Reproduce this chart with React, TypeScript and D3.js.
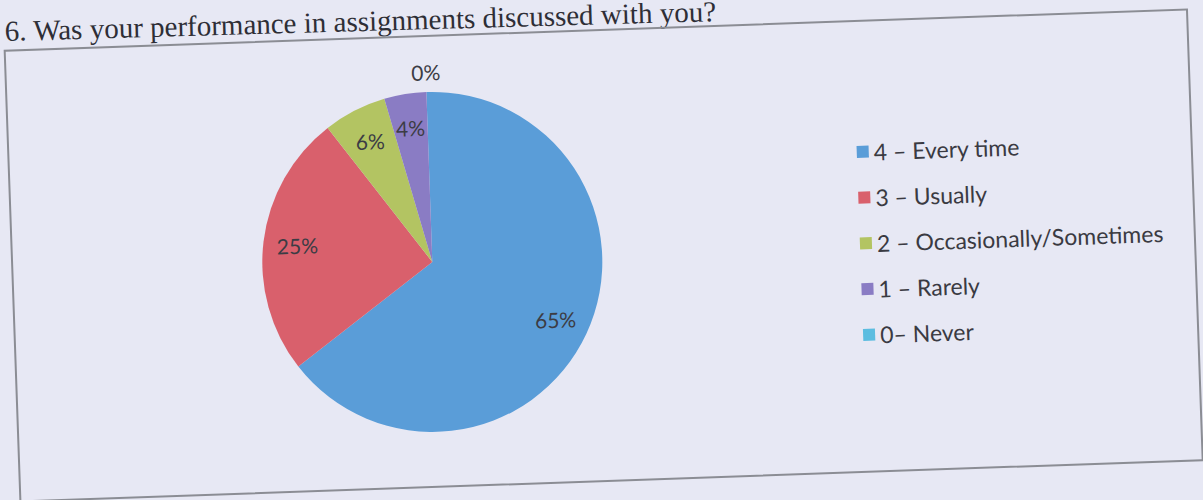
import * as d3 from 'd3';

const title = '6. Was your performance in assignments discussed with you?';
const categories = ['4 – Every time', '3 – Usually', '2 – Occasionally/Sometimes', '1 – Rarely', '0– Never'];
const values = [65, 25, 6, 4, 0];
const labels = ['65%', '25%', '6%', '4%', '0%'];
const colors = ['#5a9dd8', '#d9606c', '#b3c462', '#8a7cc4', '#5cbde0'];

const W = 1203;
const H = 500;
const cx = 432;
const cy = 256;
const R = 170;

export default function App() {
    const pie = d3.pie<number>().sort(null).value((d) => d);
    const arcs = pie(values);
    const arc = d3.arc<d3.PieArcDatum<number>>().innerRadius(0).outerRadius(R);
    const labelArc = d3.arc<d3.PieArcDatum<number>>().innerRadius(R * 0.8).outerRadius(R * 0.8);
    const outerArc = d3.arc<d3.PieArcDatum<number>>().innerRadius(R + 20).outerRadius(R + 20);

    const legendY = d3.scaleLinear().domain([0, categories.length - 1]).range([161, 344]);

    return (
        <svg
            width={W}
            height={H}
            style={{ position: 'absolute', left: 0, top: 0 }}
            fontFamily="Lato, 'Open Sans', sans-serif"
        >
            <rect x={0} y={0} width={W} height={H} fill="#e7e8f4" />
            {/* scanned page is tilted a little */}
            <text
                x={5}
                y={41}
                transform="rotate(-1.6 5 41)"
                fontFamily="'Liberation Serif', 'DejaVu Serif', serif"
                fontSize={29}
                fill="#2e2e36"
            >
                {title}
            </text>
            <g transform={`rotate(-2 ${W / 2} ${H / 2})`}>
                <rect x={12} y={30} width={1183} height={451} fill="none" stroke="#8b8d94" strokeWidth={2} />
                <g transform={`translate(${cx},${cy})`}>
                    {arcs.map((a, i) => (
                        <path key={i} d={arc(a) ?? ''} fill={colors[i]} />
                    ))}
                    {arcs.map((a, i) => {
                        const [lx, ly] = a.value === 0 ? outerArc.centroid(a) : labelArc.centroid(a);
                        return (
                            <text
                                key={i}
                                x={lx}
                                y={ly}
                                textAnchor="middle"
                                dominantBaseline="central"
                                fontSize={21}
                                fill="#3c3c44"
                            >
                                {labels[i]}
                            </text>
                        );
                    })}
                </g>
                <g>
                    {categories.map((c, i) => (
                        <g key={c} transform={`translate(866,${legendY(i)})`}>
                            <rect x={-6} y={-6} width={12} height={12} fill={colors[i]} />
                            <text x={11} y={0} dominantBaseline="central" fontSize={23} fill="#3a3a42">
                                {c}
                            </text>
                        </g>
                    ))}
                </g>
            </g>
        </svg>
    );
}
